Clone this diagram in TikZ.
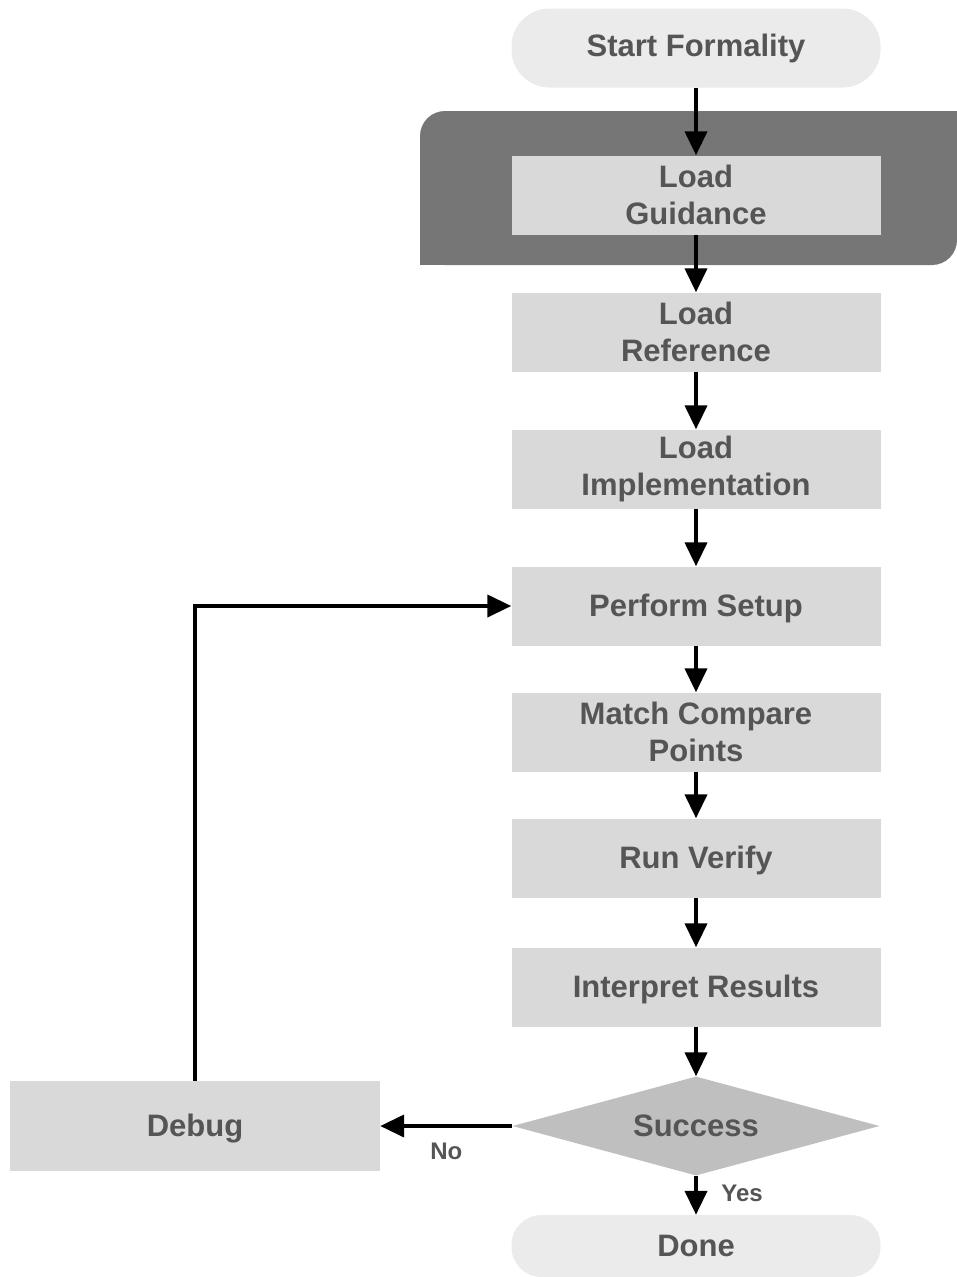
\documentclass[tikz,border=0pt]{standalone}
\usepackage{fontspec}
\setmainfont{Liberation Sans}
\usetikzlibrary{arrows.meta,shapes.geometric}
\definecolor{txt}{HTML}{555555}
\definecolor{boxfill}{HTML}{D9D9D9}
\definecolor{pillfill}{HTML}{EBEBEB}
\definecolor{diafill}{HTML}{BFBFBF}
\definecolor{darkfill}{HTML}{767676}
\tikzset{
  stepbox/.style={rectangle, fill=boxfill, minimum width=369pt, minimum height=79pt, inner sep=0pt,
    text=txt, font=\fontsize{31}{36.5}\selectfont\bfseries, align=center},
  pill/.style={rectangle, rounded corners=38pt, fill=pillfill, minimum width=369pt, minimum height=79pt, inner sep=0pt,
    text=txt, font=\fontsize{31}{36.5}\selectfont\bfseries, align=center},
  decide/.style={diamond, aspect=3.7, fill=diafill, minimum width=367pt, minimum height=99pt, inner sep=0pt,
    text=txt, font=\fontsize{31}{36.5}\selectfont\bfseries},
  flow/.style={line width=4pt, -{Triangle[width=22pt,length=24pt]}},
  lbl/.style={text=txt, font=\fontsize{24}{27}\selectfont\bfseries}
}
\begin{document}
\begin{tikzpicture}[x=1pt,y=-1pt]
\useasboundingbox (0,0) rectangle (957,1277);
% dark region
\fill[darkfill, rounded corners=25pt] (420,111) rectangle (957,265);
\fill[darkfill] (420,200) rectangle (480,265);
\fill[darkfill] (900,111) rectangle (957,160);
% nodes
\node[pill] (start) at (696,48) {Start Formality};
\node[stepbox] (guid) at (696,195) {Load\\Guidance};
\node[stepbox] (ref) at (696,332) {Load\\Reference};
\node[stepbox] (impl) at (696,469) {Load\\Implementation};
\node[stepbox, text depth=2pt] (setup) at (696,606) {Perform Setup};
\node[stepbox] (match) at (696,732) {Match Compare\\Points};
\node[stepbox, text depth=2pt] (run) at (696,858) {Run Verify};
\node[stepbox, text depth=2pt] (interp) at (696,987) {Interpret Results};
\node[decide] (succ) at (696,1126) {Success};
\node[stepbox, minimum width=370pt, minimum height=90pt, text depth=1pt] (debug) at (195,1126) {Debug};
\node[pill, minimum height=62pt, rounded corners=30pt] (done) at (696,1246) {Done};
% connectors
\draw[flow] (start) -- (guid);
\draw[flow] (guid) -- (ref);
\draw[flow] (ref) -- (impl);
\draw[flow] (impl) -- (setup);
\draw[flow] (setup) -- (match);
\draw[flow] (match) -- (run);
\draw[flow] (run) -- (interp);
\draw[flow] (interp) -- (succ);
\draw[flow] (succ) -- node[lbl, right=20pt, pos=0.45] {Yes} (done.north);
\draw[flow] (succ.west) -- node[lbl, below=12pt, pos=0.5] {No} (debug.east);
\draw[flow] (debug.north) |- (setup.west);
\end{tikzpicture}
\end{document}
